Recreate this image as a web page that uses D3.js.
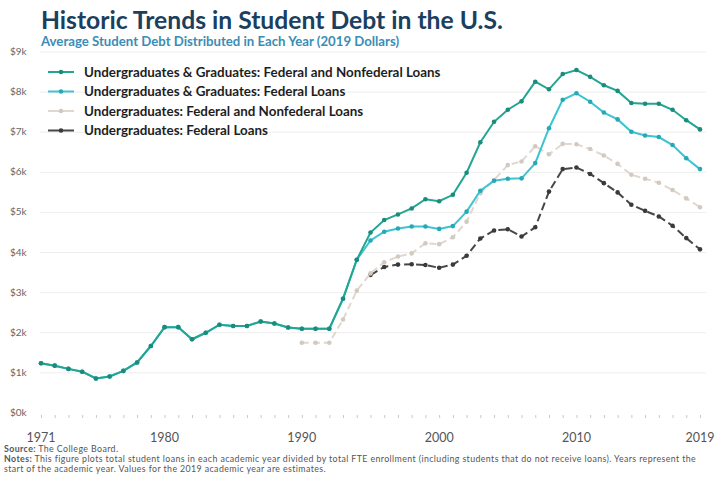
<!DOCTYPE html>
<html>
<head>
<meta charset="utf-8">
<script src="https://cdn.jsdelivr.net/npm/d3@7/dist/d3.min.js"></script>
<style>
  body { margin: 0; background: #fff; }
  svg { font-family: Lato, "Open Sans", sans-serif; }
</style>
</head>
<body>
<svg id="chart" width="720" height="480"></svg>
<script>
// years for the full series and the shorter ones
var yearsAll = d3.range(1971, 2020);
var yearsUgTotal = d3.range(1990, 2020);
var yearsUgFederal = d3.range(1995, 2020);

// values in $ thousands (2019 dollars)
var ugGradTotal = [1.24, 1.18, 1.10, 1.03, 0.86, 0.91, 1.05, 1.26, 1.67,
  2.14, 2.14, 1.84, 2.00, 2.20, 2.17, 2.17, 2.28, 2.23, 2.13,
  2.10, 2.10, 2.10, 2.85, 3.82, 4.50, 4.81, 4.95, 5.10, 5.33,
  5.28, 5.44, 5.99, 6.75, 7.26, 7.56, 7.77, 8.26, 8.07, 8.45,
  8.55, 8.38, 8.17, 8.03, 7.73, 7.71, 7.71, 7.56, 7.30, 7.07];
var ugGradFederal = [1.24, 1.18, 1.10, 1.03, 0.86, 0.91, 1.05, 1.26, 1.67,
  2.14, 2.14, 1.84, 2.00, 2.20, 2.17, 2.17, 2.28, 2.23, 2.13,
  2.10, 2.10, 2.10, 2.85, 3.82, 4.30, 4.52, 4.60, 4.65, 4.65,
  4.59, 4.66, 5.02, 5.54, 5.79, 5.84, 5.85, 6.23, 7.10, 7.81,
  7.97, 7.76, 7.49, 7.32, 7.01, 6.92, 6.88, 6.68, 6.35, 6.08];
var ugTotal = [1.75, 1.75, 1.75, 2.33, 3.05, 3.48, 3.76, 3.90, 3.98, 4.23,
  4.21, 4.38, 4.77, 5.48, 5.81, 6.18, 6.27, 6.65, 6.45, 6.71,
  6.70, 6.58, 6.42, 6.21, 5.94, 5.84, 5.74, 5.56, 5.35, 5.13];
var ugFederal = [3.44, 3.64, 3.70, 3.71, 3.69,
  3.62, 3.70, 3.92, 4.35, 4.55, 4.58, 4.40, 4.63, 5.52, 6.08,
  6.12, 5.96, 5.73, 5.50, 5.19, 5.04, 4.90, 4.67, 4.36, 4.08];

var seriesNames = [
  "Undergraduates & Graduates: Federal and Nonfederal Loans",
  "Undergraduates & Graduates: Federal Loans",
  "Undergraduates: Federal and Nonfederal Loans",
  "Undergraduates: Federal Loans"
];
var yTicks = [0, 1, 2, 3, 4, 5, 6, 7, 8, 9];
var xLabels = [1971, 1980, 1990, 2000, 2010, 2019];

var series = [
  { name: seriesNames[0], years: yearsAll, values: ugGradTotal, color: "#22a592", dot: "#1b8c7b", dash: null },
  { name: seriesNames[1], years: yearsAll, values: ugGradFederal, color: "#3cc4d0", dot: "#26a9b5", dash: null },
  { name: seriesNames[2], years: yearsUgTotal, values: ugTotal, color: "#e0d8cf", dot: "#d2cac1", dash: "7,4" },
  { name: seriesNames[3], years: yearsUgFederal, values: ugFederal, color: "#474747", dot: "#3a3a3a", dash: "8,4" }
];

var svg = d3.select("#chart");

var x = d3.scaleLinear().domain([1971, 2019]).range([41, 700]);
var y = d3.scaleLinear().domain([0, 9]).range([413, 52]);

// title
svg.append("text").attr("x", 41).attr("y", 29)
  .style("font-size", "24.7px").style("font-weight", "bold").attr("fill", "#1b3f60")
  .text("Historic Trends in Student Debt in the U.S.");
svg.append("text").attr("x", 41).attr("y", 46)
  .style("font-size", "13.2px").style("font-weight", "bold").attr("fill", "#3a8db5")
  .text("Average Student Debt Distributed in Each Year (2019 Dollars)");

// grid + y labels
svg.append("g").selectAll("line").data(yTicks).enter().append("line")
  .attr("x1", 40).attr("x2", 706)
  .attr("y1", function(d){ return y(d); }).attr("y2", function(d){ return y(d); })
  .attr("stroke", function(d){ return d === 0 ? "#fff" : "#eeeeee"; }).attr("stroke-width", 1);

svg.append("g").selectAll("text").data(yTicks).enter().append("text")
  .attr("x", 10).attr("y", function(d){ return y(d) + 3; })
  .style("font-size", "10px").attr("fill", "#666")
  .text(function(d){ return "$" + d + "k"; });

// x axis: tiny ticks every year, labels at a few years
var xAxis = d3.axisBottom(x).tickValues(yearsAll).tickSize(3).tickFormat("");
var gx = svg.append("g").attr("transform", "translate(0,415)").call(xAxis);
gx.select(".domain").remove();
gx.selectAll(".tick line").attr("stroke", "#c8c8c8");

svg.append("g").selectAll("text").data(xLabels).enter().append("text")
  .attr("x", function(d){ return x(d); }).attr("y", 442)
  .attr("text-anchor", "middle")
  .style("font-size", "12.5px").attr("fill", "#555")
  .text(function(d){ return d; });

// lines
var line = d3.line()
  .x(function(d){ return x(d[0]); })
  .y(function(d){ return y(d[1]); });

// draw in reverse so the top teal series sits on top
series.slice().reverse().forEach(function(s){
  var pts = s.years.map(function(yr, i){ return [yr, s.values[i]]; });
  var g = svg.append("g");
  g.append("path").datum(pts)
    .attr("d", line)
    .attr("fill", "none")
    .attr("stroke", s.color)
    .attr("stroke-width", 2)
    .attr("stroke-dasharray", s.dash);
  g.selectAll("circle").data(pts).enter().append("circle")
    .attr("cx", function(d){ return x(d[0]); })
    .attr("cy", function(d){ return y(d[1]); })
    .attr("r", 2.3)
    .attr("fill", s.dot);
});

// legend
var legend = svg.append("g").selectAll("g").data(series).enter().append("g")
  .attr("transform", function(d, i){ return "translate(48," + (72 + i * 19.5) + ")"; });
legend.append("line").attr("x1", 0).attr("x2", 26).attr("y1", 0).attr("y2", 0)
  .attr("stroke", function(d){ return d.color; }).attr("stroke-width", 2);
legend.append("circle").attr("cx", 13).attr("cy", 0).attr("r", 2.3)
  .attr("fill", function(d){ return d.dot; });
legend.append("text").attr("x", 36).attr("y", 4.8)
  .style("font-size", "13.4px").style("font-weight", "bold").attr("fill", "#1e1e1e")
  .text(function(d){ return d.name; });

// source + notes
var foot = svg.append("g").style("font-size", "8.8px").style("letter-spacing", "0.4px").attr("fill", "#555");
var src = foot.append("text").attr("x", 4).attr("y", 452);
src.append("tspan").style("font-weight", "bold").text("Source:");
src.append("tspan").text("  The College Board.");
var n1 = foot.append("text").attr("x", 4).attr("y", 462);
n1.append("tspan").style("font-weight", "bold").text("Notes:");
n1.append("tspan").text(" This figure plots total student loans in each academic year divided by total FTE enrollment (including students that do not receive loans). Years represent the");
foot.append("text").attr("x", 4).attr("y", 472)
  .text("start of the academic year. Values for the 2019 academic year are estimates.");
</script>
</body>
</html>
